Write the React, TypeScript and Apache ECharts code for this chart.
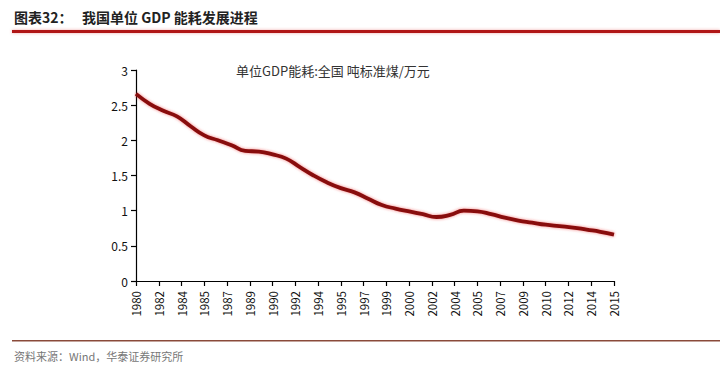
import React, { useEffect, useRef } from "react";
import * as echarts from "echarts";

const years: number[] = [
  1980, 1981, 1982, 1983, 1984, 1985, 1986, 1987, 1988, 1989, 1990, 1991,
  1992, 1993, 1994, 1995, 1996, 1997, 1998, 1999, 2000, 2001, 2002, 2003,
  2004, 2005, 2006, 2007, 2008, 2009, 2010, 2011, 2012, 2013, 2014, 2015,
];
const energyPerGdp: number[] = [
  2.66, 2.52, 2.42, 2.34, 2.2, 2.07, 2.0, 1.93, 1.85, 1.84, 1.8, 1.74,
  1.62, 1.5, 1.4, 1.32, 1.26, 1.17, 1.08, 1.03, 0.99, 0.95, 0.91, 0.94,
  1.0, 0.99, 0.95, 0.9, 0.86, 0.83, 0.8, 0.78, 0.76, 0.73, 0.7, 0.66,
];
const xTickLabels: string[] = [
  "1980", "1982", "1984", "1985", "1987", "1989", "1990", "1992", "1994",
  "1995", "1997", "1999", "2000", "2002", "2004", "2005", "2007", "2009",
  "2010", "2012", "2014", "2015",
];
const seriesName = "单位GDP能耗:全国 吨标准煤/万元";
const titleText = "图表32：";
const titleText2 = "我国单位 GDP 能耗发展进程";
const sourceText = "资料来源：Wind，华泰证券研究所";

export default function App() {
  const ref = useRef<HTMLDivElement>(null);
  useEffect(() => {
    if (!ref.current) return;
    const chart = echarts.init(ref.current, null, { renderer: "svg" });
    const startYear = years[0];
    const endYear = years[years.length - 1];
    const steps = xTickLabels.length - 1;
    const interval = (endYear - startYear) / steps;
    const font = "'Noto Sans CJK SC', 'Liberation Sans', sans-serif";
    chart.setOption({
      animation: false,
      backgroundColor: "#ffffff",
      textStyle: { fontFamily: font },
      grid: { left: 136, right: 106, top: 70, bottom: 92, containLabel: false },
      xAxis: {
        type: "value",
        min: startYear,
        max: endYear,
        interval: interval,
        splitLine: { show: false },
        axisLine: { show: true, lineStyle: { color: "#000", width: 1.2 } },
        axisTick: { show: true, length: 5, lineStyle: { color: "#000", width: 1.2 } },
        axisLabel: {
          rotate: 90,
          color: "#111",
          fontSize: 11.5,
          margin: 10,
          showMinLabel: true,
          showMaxLabel: true,
          formatter: (v: number) => {
            const i = Math.round(((v - startYear) * steps) / (endYear - startYear));
            return xTickLabels[i] ?? "";
          },
        },
      },
      yAxis: {
        type: "value",
        min: 0,
        max: 3,
        interval: 0.5,
        splitLine: { show: false },
        axisLine: { show: true, lineStyle: { color: "#000", width: 1.2 } },
        axisTick: { show: true, length: 5, lineStyle: { color: "#000", width: 1.2 } },
        axisLabel: { color: "#111", fontSize: 12, margin: 8 },
      },
      graphic: [
        {
          type: "text",
          left: 14,
          top: 10,
          style: { text: titleText, font: `bold 14px ${font}`, fill: "#222" },
        },
        {
          type: "text",
          left: 82,
          top: 10,
          style: { text: titleText2, font: `bold 14px ${font}`, fill: "#222" },
        },
        {
          type: "rect",
          shape: { x: 12, y: 30, width: 708, height: 3 },
          style: { fill: "#b01818", shadowBlur: 3, shadowColor: "rgba(220,80,80,0.5)" },
        },
        {
          type: "text",
          left: 236,
          top: 64,
          style: { text: seriesName, font: `13px ${font}`, fill: "#333" },
        },
        {
          type: "rect",
          shape: { x: 12, y: 340, width: 708, height: 1.5 },
          style: { fill: "#8a4a3a" },
        },
        {
          type: "text",
          left: 14,
          top: 350,
          style: { text: sourceText, font: `11px ${font}`, fill: "#777" },
        },
      ],
      series: [
        {
          name: seriesName,
          type: "line",
          smooth: 0.5,
          symbol: "none",
          data: years.map((y, i) => [y, energyPerGdp[i]]),
          lineStyle: {
            color: "#880a0a",
            width: 3.8,
            shadowBlur: 3,
            shadowColor: "rgba(230,40,40,0.6)",
          },
        },
      ],
    });
    return () => chart.dispose();
  }, []);
  return <div ref={ref} style={{ width: 720, height: 373, position: "absolute", left: 0, top: 0 }} />;
}
